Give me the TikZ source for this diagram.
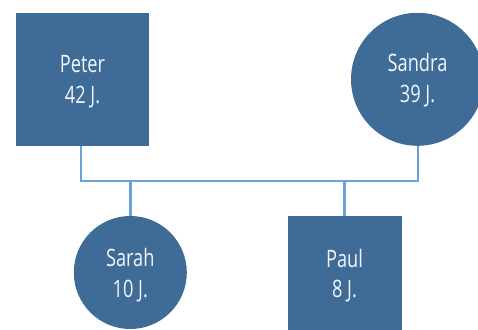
\documentclass[tikz,border=0pt]{standalone}
\usepackage{fontspec}
\setmainfont[FakeStretch=0.76]{Open Sans}
\definecolor{boxfill}{HTML}{3F6C97}
\definecolor{linkblue}{HTML}{6BA3D6}
\definecolor{txt}{HTML}{F2F5F9}
\begin{document}
\begin{tikzpicture}[x=1pt,y=-1pt,
  person/.style={fill=boxfill,draw=none,inner sep=0pt},
  male/.style={person,rectangle},
  female/.style={person,circle},
  lbl/.style={anchor=base,text=txt,font=\fontsize{24}{24}\selectfont,inner sep=0pt},
  conn/.style={draw=linkblue,line width=2.4pt}]
\useasboundingbox (0,0) rectangle (478,329);
\clip (0,0) rectangle (478,329);
% shapes
\node[male,minimum width=133pt,minimum height=133pt] (Peter) at (82.5,79.5) {};
\node[female,minimum size=133pt] (Sandra) at (417.5,79.3) {};
\node[female,minimum size=113pt] (Sarah) at (130.3,272.5) {};
\node[male,minimum width=114pt,minimum height=114pt] (Paul) at (344.5,273) {};
% connectors
\coordinate (J1) at (80.7,180.7);
\coordinate (J2) at (418,180.7);
\draw[conn] (Peter.south -| J1) -- (J1) -- (J2) -- (J2 |- Sandra.south);
\draw[conn] (Sarah.north) -- (Sarah.north |- J1);
\draw[conn] (Paul.north) -- (Paul.north |- J1);
% labels
\node[lbl] (PeterA) at ([yshift=7.5pt]Peter.center) {Peter};
\node[lbl] (PeterB) at ([yshift=-23.5pt]Peter.center) {42 J.};
\node[lbl] (SandraA) at ([yshift=7.5pt]Sandra.center) {Sandra};
\node[lbl] (SandraB) at ([yshift=-23.5pt]Sandra.center) {39 J.};
\node[lbl] (SarahA) at ([yshift=6pt]Sarah.center) {Sarah};
\node[lbl] (SarahB) at ([yshift=-24.5pt]Sarah.center) {10 J.};
\node[lbl] (PaulA) at ([yshift=6pt]Paul.center) {Paul};
\node[lbl] (PaulB) at ([yshift=-24.5pt]Paul.center) {8 J.};
\end{tikzpicture}
\end{document}
